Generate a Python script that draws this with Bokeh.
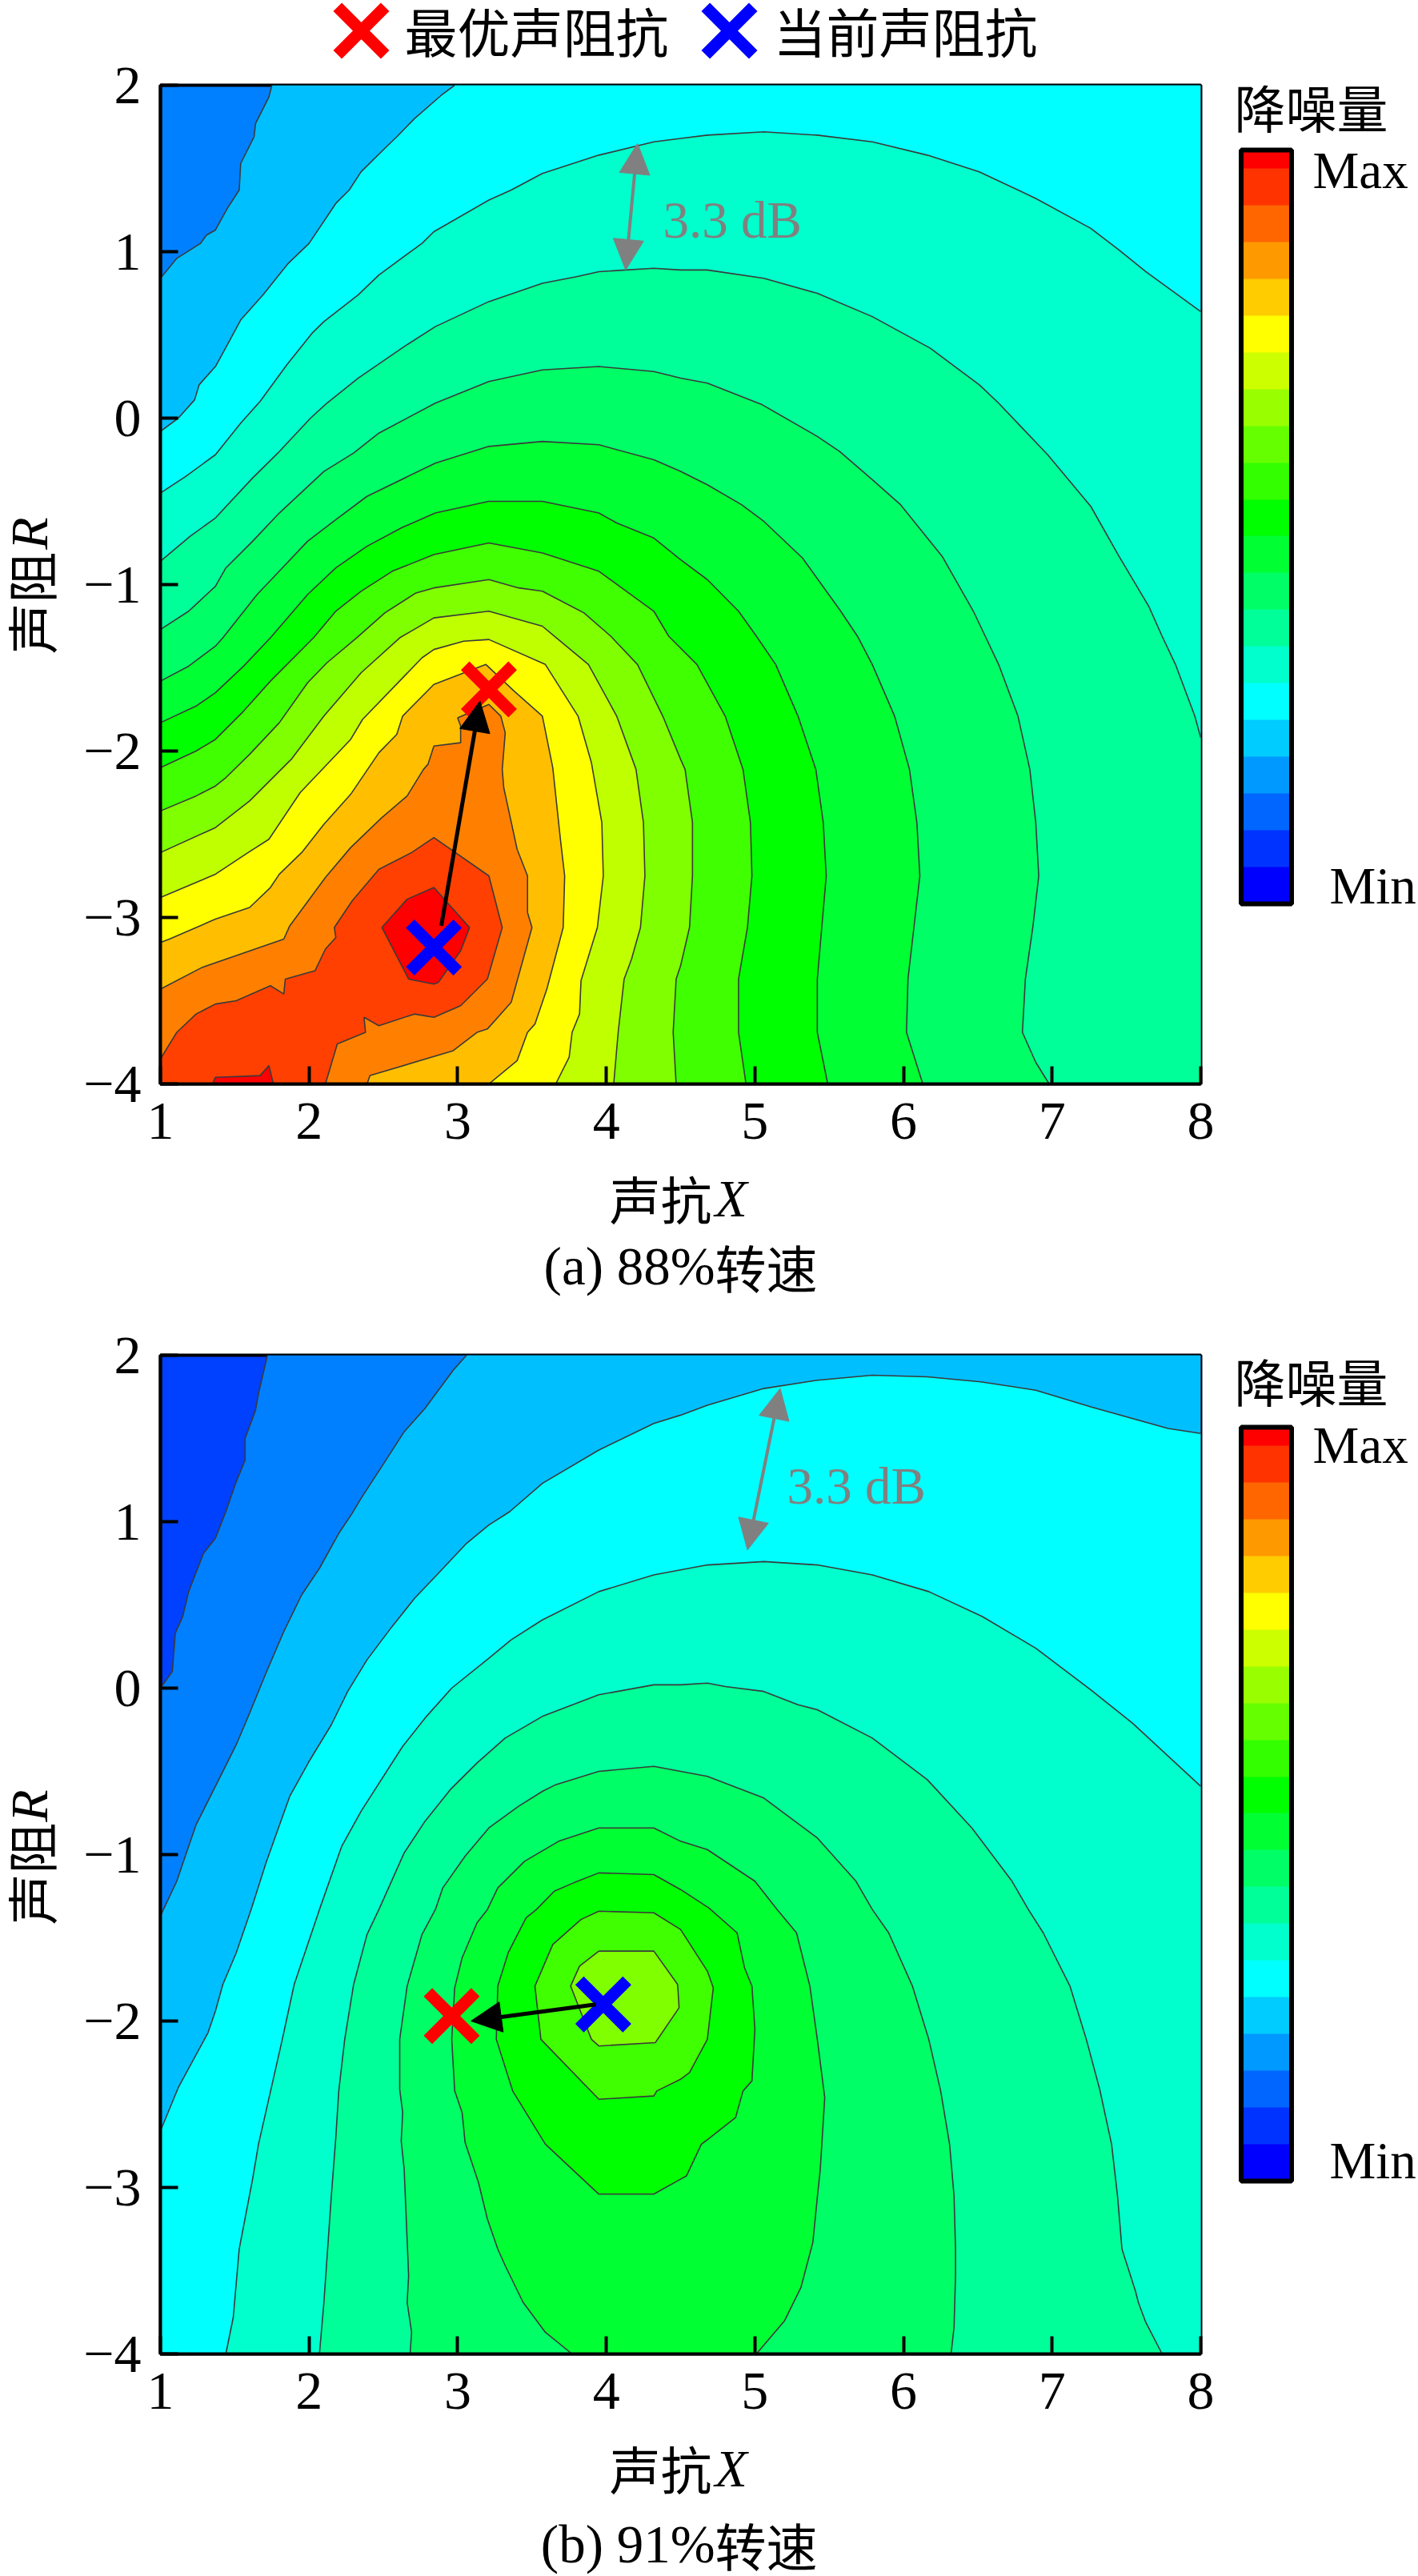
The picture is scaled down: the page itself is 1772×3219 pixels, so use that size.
from math import pi
from bokeh.plotting import figure
from bokeh.layouts import column, row
from bokeh.embed import file_html
from bokeh.resources import INLINE
from bokeh.core.properties import value
from bokeh.models import (Range1d, FixedTicker, Label, Arrow, NormalHead, ColorBar,
                          LinearColorMapper)

SERIF = "Liberation Serif"
CJK = "Noto Sans CJK SC"

# ---------- colour bar bands, low to high ----------
BAR_COLORS = ["#0000ff", "#0033ff", "#0066ff", "#0099ff", "#00ccff", "#00ffff", "#00ffcc", "#00ff99",
              "#00ff66", "#00ff33", "#00ff00", "#33ff00", "#66ff00", "#99ff00", "#ccff00", "#ffff00",
              "#ffcc00", "#ff9900", "#ff6600", "#ff3300", "#ff0000"]

# ---------- panel (a) 88% ----------
A_BASE = "#0080ff"
A_COLORS = ["#00bfff", "#00ffff", "#00ffcc", "#00ff99", "#00ff66", "#00ff33", "#00ff00", "#40ff00",
            "#80ff00", "#bfff00", "#ffff00", "#ffbf00", "#ff8000", "#ff4000", "#ff0000", "#ff0000"]
A1X = [1.75,1.73,1.64,1.63,1.54,1.53,1.45,1.37,1.31,1.27,1.11,1]
A1Y = [2,1.93,1.77,1.69,1.53,1.37,1.26,1.13,1.10,1.05,.96,.84]
A2X = [2.98,2.89,2.71,2.59,2.52,2.35,2.27,2.18,2.0,1.86,1.69,1.54,1.45,1.37,1.26,1.23,1.12,1]
A2Y = [2,1.94,1.8,1.69,1.63,1.48,1.37,1.29,1.05,.93,.74,.59,.44,.31,.2,.11,0,-.08]
A3X = [1,1.17,1.37,1.54,1.67,1.85,2.02,2.10,2.33,2.47,2.76,2.84,3.21,3.36,3.57,3.95,4.32,4.5,4.68,5.06,5.42,5.79,6.16,6.51,6.89,7.26,7.45,7.63,8]
A3Y = [-.45,-.35,-.22,-.03,.10,.32,.51,.58,.74,.86,1.05,1.12,1.31,1.37,1.47,1.58,1.66,1.68,1.70,1.72,1.70,1.66,1.58,1.48,1.32,1.14,1.01,.88,.64]
A4X = [1,1.20,1.37,1.62,1.79,2.01,2.12,2.33,2.64,2.85,3.21,3.57,3.80,3.95,4.32,4.5,4.68,5.06,5.42,5.79,6.18,6.51,6.64,6.97,7.26,7.45,7.65,7.74,7.83,7.96,8]
A4Y = [-.86,-.71,-.60,-.36,-.21,0,.09,.24,.43,.55,.70,.81,.85,.88,.90,.89,.89,.84,.75,.61,.42,.20,.09,-.22,-.53,-.83,-1.13,-1.31,-1.48,-1.79,-1.92]
A5X = [1,1.19,1.37,1.44,1.62,1.80,2.10,2.30,2.47,2.85,3.21,3.57,3.95,4.32,4.5,4.68,5.05,5.42,5.57,5.79,5.98,6.26,6.47,6.55,6.64,6.77,6.85,6.89,6.91,6.87,6.82,6.80,6.89,6.98]
A5Y = [-1.27,-1.16,-1.01,-.90,-.74,-.57,-.32,-.21,-.09,.09,.22,.29,.31,.28,.24,.21,.08,-.11,-.2,-.37,-.52,-.83,-1.16,-1.31,-1.48,-1.79,-2.11,-2.43,-2.75,-3.06,-3.37,-3.69,-3.87,-4]
A6X = [1,1.19,1.37,1.42,1.65,1.82,1.99,2.18,2.39,2.85,3.21,3.57,3.95,4.32,4.5,4.68,4.91,5.06,5.32,5.57,5.69,5.79,5.94,6.04,6.09,6.11,6.07,6.03,6.02,6.13]
A6Y = [-1.58,-1.49,-1.37,-1.32,-1.06,-.90,-.74,-.61,-.47,-.27,-.17,-.14,-.16,-.25,-.32,-.40,-.52,-.62,-.84,-1.15,-1.31,-1.48,-1.79,-2.11,-2.43,-2.75,-3.06,-3.37,-3.69,-4]
A7X = [1,1.24,1.37,1.56,1.74,1.99,2.18,2.39,2.62,2.85,3.21,3.57,3.95,4.07,4.32,4.5,4.68,4.89,5.01,5.14,5.29,5.41,5.46,5.48,5.45,5.42,5.42,5.49]
A7Y = [-1.83,-1.73,-1.65,-1.49,-1.32,-1.06,-.90,-.77,-.66,-.57,-.50,-.50,-.57,-.63,-.72,-.85,-.97,-1.16,-1.31,-1.48,-1.79,-2.11,-2.43,-2.75,-3.06,-3.37,-3.69,-4]
A8X = [1,1.24,1.37,1.56,1.74,2.03,2.18,2.35,2.56,2.84,3.21,3.57,3.95,4.32,4.42,4.61,4.80,4.92,4.97,4.98,4.95,4.89,4.89,4.94]
A8Y = [-2.10,-2.0,-1.93,-1.76,-1.58,-1.32,-1.16,-1.04,-.92,-.82,-.75,-.81,-.92,-1.16,-1.31,-1.48,-1.79,-2.11,-2.43,-2.75,-3.06,-3.37,-3.69,-4]
A9X = [1,1.24,1.37,1.44,1.60,1.80,1.99,2.12,2.32,2.51,2.72,2.84,3.21,3.41,3.57,3.85,4.03,4.21,4.38,4.50,4.53,4.58,4.58,4.56,4.50,4.47,4.45,4.47]
A9Y = [-2.36,-2.27,-2.21,-2.16,-2.02,-1.83,-1.59,-1.47,-1.32,-1.17,-1.05,-1.02,-.97,-1.02,-1.04,-1.17,-1.31,-1.48,-1.79,-2.05,-2.11,-2.43,-2.75,-3.06,-3.29,-3.37,-3.69,-4]
A10X = [1,1.37,1.60,1.88,2.10,2.35,2.61,2.84,3.21,3.57,3.65,3.88,4.07,4.20,4.25,4.26,4.23,4.17,4.12,4.08,4.05]
A10Y = [-2.61,-2.46,-2.30,-2.05,-1.79,-1.53,-1.32,-1.20,-1.16,-1.25,-1.31,-1.48,-1.79,-2.11,-2.43,-2.75,-3.06,-3.25,-3.37,-3.69,-4]
A11X = [1,1.37,1.59,1.73,1.94,2.28,2.36,2.76,2.84,3.04,3.21,3.59,3.81,3.90,3.97,3.98,3.94,3.83,3.82,3.77,3.75,3.66]
A11Y = [-2.88,-2.74,-2.61,-2.53,-2.25,-1.93,-1.81,-1.44,-1.39,-1.34,-1.33,-1.48,-1.79,-2.07,-2.43,-2.75,-3.06,-3.38,-3.58,-3.69,-3.84,-4]
A12X = [1,1.06,1.37,1.60,1.74,1.80,1.95,2.10,2.28,2.47,2.59,2.63,2.84,3.19,3.38,3.57,3.64,3.69,3.72,3.71,3.60,3.52,3.47,3.40,3.21]
A12Y = [-3.15,-3.13,-3.01,-2.94,-2.82,-2.74,-2.61,-2.44,-2.26,-2.01,-1.90,-1.79,-1.60,-1.48,-1.64,-1.79,-2.10,-2.52,-2.75,-3.06,-3.43,-3.64,-3.69,-3.86,-4]
A13X = [1,1.28,1.83,1.87,2.11,2.28,2.49,2.66,2.77,2.80,2.84,3.02,3.02,3.0,3.21,3.29,3.32,3.30,3.31,3.40,3.47,3.47,3.50,3.36,3.20,3.13,2.97,2.41,2.39]
A13Y = [-3.43,-3.30,-3.13,-3.05,-2.76,-2.58,-2.40,-2.27,-2.11,-2.08,-1.97,-1.95,-1.85,-1.80,-1.72,-1.79,-1.89,-2.11,-2.22,-2.59,-2.75,-2.97,-3.06,-3.51,-3.67,-3.69,-3.80,-3.95,-4]
A14X = [1,1.11,1.24,1.37,1.51,1.74,1.83,1.84,2.04,2.11,2.18,2.17,2.29,2.47,2.69,2.84,3.21,3.30,3.20,3.02,2.84,2.71,2.47,2.37,2.38,2.19,2.11]
A14Y = [-3.85,-3.69,-3.58,-3.52,-3.50,-3.41,-3.46,-3.37,-3.32,-3.19,-3.12,-3.06,-2.90,-2.71,-2.61,-2.52,-2.75,-3.06,-3.37,-3.53,-3.60,-3.58,-3.65,-3.60,-3.69,-3.76,-4]
A15X = [2.49,2.66,2.84,3.08,3.02,2.87,2.84,2.67]
A15Y = [-3.06,-2.89,-2.82,-3.06,-3.20,-3.39,-3.40,-3.37]
A16X = [1.35,1.37,1.67,1.73,1.76]
A16Y = [-4,-3.96,-3.95,-3.89,-4]
A_BEST = (3.21, -1.63)
A_NOW = (2.84, -3.18)
A_MOVE = (2.89, -3.05, 3.15, -1.70)
A_GAP = (4.21, 1.65, 4.13, 0.89)

# ---------- panel (b) 91% ----------
B_BASE = "#0040ff"
B_COLORS = ["#0080ff", "#00bfff", "#00ffff", "#00ffcc", "#00ff99", "#00ff66", "#00ff33", "#00ff00",
            "#40ff00", "#80ff00"]
B1X = [1.72,1.66,1.64,1.57,1.57,1.51,1.44,1.37,1.29,1.19,1.15,1.10,1.08,1]
B1Y = [2,1.77,1.67,1.50,1.37,1.24,1.06,.90,.81,.58,.43,.33,.10,0]
B2X = [3.06,2.97,2.78,2.64,2.51,2.35,2.29,2.20,2.07,1.95,1.83,1.71,1.60,1.51,1.37,1.24,1.14,1.11,1.02,1]
B2Y = [2,1.91,1.68,1.54,1.36,1.14,1.05,.93,.72,.56,.34,.09,-.15,-.34,-.59,-.82,-1.08,-1.16,-1.33,-1.37]
B3X = [1,1.12,1.32,1.37,1.42,1.51,1.61,1.71,1.87,2.0,2.15,2.26,2.39,2.55,2.71,2.86,3.06,3.21,3.35,3.57,3.95,4.32,4.5,4.68,5.06,5.42,5.79,6.16,6.52,6.89,7.26,7.78,8]
B3Y = [-2.66,-2.40,-2.07,-1.94,-1.78,-1.59,-1.33,-1.05,-.65,-.44,-.22,-.02,.17,.36,.54,.68,.87,.98,1.06,1.23,1.43,1.59,1.64,1.70,1.80,1.85,1.88,1.87,1.84,1.79,1.69,1.56,1.53]
B4X = [1.44,1.49,1.53,1.62,1.66,1.82,1.90,2.07,2.22,2.35,2.63,2.79,2.96,3.21,3.36,3.57,3.95,4.32,4.5,4.68,5.06,5.42,5.79,6.17,6.53,6.89,7.26,7.54,8]
B4Y = [-4,-3.78,-3.37,-2.95,-2.74,-2.11,-1.78,-1.33,-.95,-.74,-.35,-.17,0,.18,.29,.41,.58,.68,.71,.74,.76,.74,.68,.58,.43,.24,-.01,-.21,-.59]
B5X = [2.07,2.10,2.15,2.18,2.20,2.24,2.30,2.39,2.47,2.64,2.78,2.95,3.13,3.32,3.57,3.95,4.32,4.5,4.68,4.80,5.06,5.29,5.42,5.79,6.16,6.46,6.73,6.84,6.94,7.12,7.23,7.32,7.40,7.44,7.47,7.56,7.58,7.63,7.74]
B5Y = [-4,-3.69,-3.05,-2.70,-2.42,-2.11,-1.78,-1.48,-1.33,-.99,-.80,-.61,-.45,-.30,-.17,-.04,.02,.02,.03,.01,-.02,-.10,-.13,-.30,-.55,-.84,-1.16,-1.33,-1.47,-1.79,-2.11,-2.41,-2.74,-3.05,-3.37,-3.62,-3.69,-3.81,-4]
B6X = [2.68,2.69,2.66,2.67,2.64,2.62,2.63,2.61,2.61,2.66,2.76,2.85,2.90,3.05,3.21,3.41,3.57,3.66,3.95,4.32,4.5,4.68,5.06,5.42,5.68,5.79,5.90,6.06,6.17,6.25,6.31,6.34,6.35,6.35,6.34,6.32]
B6Y = [-4,-3.87,-3.69,-3.53,-2.89,-2.72,-2.55,-2.41,-2.11,-1.79,-1.48,-1.33,-1.2,-1.01,-.84,-.71,-.62,-.58,-.50,-.47,-.50,-.53,-.66,-.90,-1.16,-1.33,-1.47,-1.79,-2.11,-2.42,-2.74,-3.05,-3.37,-3.53,-3.84,-4]
B7X = [3.77,3.59,3.44,3.32,3.27,3.20,3.14,3.05,3.03,2.98,2.96,2.98,3.03,3.13,3.20,3.27,3.45,3.68,3.95,4.32,4.5,4.68,5.0,5.15,5.28,5.37,5.42,5.47,5.44,5.42,5.39,5.31,5.20,5.01]
B7Y = [-4,-3.87,-3.69,-3.47,-3.37,-3.19,-2.97,-2.73,-2.55,-2.42,-2.11,-1.80,-1.62,-1.41,-1.33,-1.2,-1.04,-.92,-.84,-.84,-.92,-.97,-1.16,-1.33,-1.47,-1.79,-2.11,-2.46,-2.89,-3.06,-3.33,-3.60,-3.80,-4]
B8X = [3.53,3.65,3.78,3.95,4.32,4.5,4.69,4.88,4.93,4.98,5.0,4.98,4.92,4.87,4.67,4.64,4.54,4.50,4.32,3.95,3.59,3.37,3.26,3.27,3.34,3.46]
B8Y = [-1.33,-1.22,-1.17,-1.11,-1.12,-1.21,-1.32,-1.47,-1.68,-1.79,-2.05,-2.36,-2.42,-2.58,-2.72,-2.74,-2.93,-2.95,-3.04,-3.04,-2.74,-2.42,-2.11,-1.79,-1.59,-1.38]
B9X = [3.95,4.32,4.5,4.68,4.72,4.68,4.56,4.5,4.34,4.32,3.95,3.56,3.52,3.64,3.83]
B9Y = [-1.34,-1.35,-1.45,-1.70,-1.80,-2.11,-2.31,-2.35,-2.42,-2.45,-2.47,-2.11,-1.79,-1.54,-1.39]
B10X = [3.95,4.32,4.48,4.49,4.33,3.95,3.90,3.76,3.82]
B10Y = [-1.58,-1.58,-1.78,-1.92,-2.13,-2.15,-2.11,-1.79,-1.67]
B_BEST = (2.96, -1.97)
B_NOW = (3.98, -1.90)
B_MOVE = (3.93, -1.90, 3.09, -2.00)
B_GAP = (5.17, 1.80, 4.95, 0.83)

X_TICKS = [1, 2, 3, 4, 5, 6, 7, 8]
Y_TICKS = [-4, -3, -2, -1, 0, 1, 2]
Y_TICK_TEXT = {-4: "\u22124", -3: "\u22123", -2: "\u22122", -1: "\u22121", 0: "0", 1: "1", 2: "2"}

CORNERS_A = [[(1,-4),(8,-4),(8,2)], [(1,-4),(8,-4),(8,2)], [(8,-4),(1,-4)], [(8,-4),(1,-4)]] + [[(1,-4)]]*10 + [[], []]
CORNERS_B = [[(1,-4),(8,-4),(8,2)], [(1,-4),(8,-4),(8,2)], [(8,-4),(1,-4)], [(8,-4)]] + [[]]*6

A_LEVELS = [(A1X,A1Y),(A2X,A2Y),(A3X,A3Y),(A4X,A4Y),(A5X,A5Y),(A6X,A6Y),(A7X,A7Y),(A8X,A8Y),
            (A9X,A9Y),(A10X,A10Y),(A11X,A11Y),(A12X,A12Y),(A13X,A13Y),(A14X,A14Y),(A15X,A15Y),(A16X,A16Y)]
B_LEVELS = [(B1X,B1Y),(B2X,B2Y),(B3X,B3Y),(B4X,B4Y),(B5X,B5Y),(B6X,B6Y),(B7X,B7Y),(B8X,B8Y),(B9X,B9Y),(B10X,B10Y)]

FRAME_LEFT, FRAME_W, FRAME_H = 200, 1300, 1248
LEFT_W, RIGHT_START, RIGHT_W, BELOW_PAD = 72, 1540, 232, 91


def sheet(width, height, xr, yr, **kw):
    """A bare figure whose ranges run in the page's pixels, for the texts around a panel."""
    s = figure(frame_width=width, frame_height=height, x_range=Range1d(*xr), y_range=Range1d(*yr),
               x_axis_location=None, y_axis_location=None, output_backend="svg", toolbar_location=None,
               outline_line_color=None, min_border_top=kw.get("top", 0), min_border_bottom=kw.get("bottom", 0),
               min_border_left=kw.get("left", 0), min_border_right=kw.get("right", 0))
    s.grid.visible = False
    return s


def put(s, x, y, text, font=SERIF, size=66, color="black", align="center", style="normal", angle=0):
    s.text([x], [y], text=[text], text_font=value(font), text_font_size=f"{size}px", text_color=color,
           text_align=align, text_baseline="middle", text_font_style=style, angle=angle)


def panel(fig_top, frame_top, page_end, base, colors, levels, corners, best, now, move, gap,
          gap_label, bar_up, title_y, max_y, min_y, xlabel_y, cap_y, cap_text, ylab_y, r_y):
    top = frame_top - fig_top
    frame_bottom = frame_top + FRAME_H
    p = figure(frame_width=FRAME_W, frame_height=FRAME_H, x_range=Range1d(1, 8), y_range=Range1d(-4, 2),
               output_backend="svg", toolbar_location=None, min_border_left=FRAME_LEFT - LEFT_W,
               min_border_right=RIGHT_START - FRAME_LEFT - FRAME_W,
               min_border_top=top, min_border_bottom=BELOW_PAD,
               background_fill_color=base, border_fill_color="white")
    p.grid.visible = False
    p.outline_line_color = "black"
    p.outline_line_width = 4
    for ax, ticks in ((p.xaxis[0], X_TICKS), (p.yaxis[0], Y_TICKS)):
        ax.ticker = FixedTicker(ticks=ticks)
        ax.major_tick_in = 22
        ax.major_tick_out = 0
        ax.minor_tick_line_color = None
        ax.major_tick_line_width = 4
        ax.axis_line_width = 4
        ax.major_label_text_font = SERIF
        ax.major_label_text_font_size = "68px"
        ax.major_label_text_color = "black"
    p.xaxis[0].major_label_standoff = 24
    p.yaxis[0].major_label_standoff = 24
    p.yaxis[0].major_label_overrides = Y_TICK_TEXT

    for (xs, ys), col, extra in zip(levels, colors, corners):
        p.patch(list(xs) + [c[0] for c in extra], list(ys) + [c[1] for c in extra],
                fill_color=col, line_color=None)
        closed = not extra and xs[0] != 8 and ys[0] != -4
        p.line(list(xs) + ([xs[0]] if closed else []), list(ys) + ([ys[0]] if closed else []),
               line_color="#3a3a3a", line_width=1.6)

    p.add_layout(Label(x=1 + (gap_label[0] - FRAME_LEFT) * 7 / FRAME_W, y=2 - (gap_label[1] - frame_top) * 6 / FRAME_H,
                       text="3.3 dB", text_font=SERIF, text_font_size="65px", text_color="#808080",
                       text_baseline="middle"))
    gray = "#808080"
    p.add_layout(Arrow(x_start=gap[0], y_start=gap[1], x_end=gap[2], y_end=gap[3],
                       start=NormalHead(size=38, fill_color=gray, line_color=gray, line_width=1),
                       end=NormalHead(size=38, fill_color=gray, line_color=gray, line_width=1),
                       line_color=gray, line_width=4))
    p.add_layout(Arrow(x_start=move[0], y_start=move[1], x_end=move[2], y_end=move[3],
                       end=NormalHead(size=38, fill_color="black", line_color="black", line_width=1),
                       line_color="black", line_width=5))
    p.scatter([best[0]], [best[1]], marker="x", size=84, line_color="#ff0000", line_width=15)
    p.scatter([now[0]], [now[1]], marker="x", size=84, line_color="#0000ff", line_width=15)

    # y title to the left
    left = sheet(LEFT_W, FRAME_H, (0, LEFT_W), (frame_bottom, frame_top), top=top, bottom=BELOW_PAD)
    put(left, 36, ylab_y, "\u58f0\u963b", CJK, 64, angle=pi / 2)
    put(left, 36, r_y, "R", style="italic", size=66, angle=pi / 2)

    # colour bar to the right
    right = sheet(RIGHT_W, FRAME_H, (RIGHT_START, RIGHT_START + RIGHT_W), (frame_bottom, frame_top),
                  top=top, bottom=BELOW_PAD)
    put(right, 1638, title_y, "\u964d\u566a\u91cf", CJK, 64)
    put(right, 1640, max_y, "Max", align="left", size=65)
    put(right, 1661, min_y, "Min", align="left", size=65)
    right.add_layout(ColorBar(color_mapper=LinearColorMapper(
        palette=[c for c in BAR_COLORS[:-1] for _ in (0, 1)] + [BAR_COLORS[-1]], low=0, high=1),
        location=(1550.5 - RIGHT_START, bar_up), width=63, height=942, padding=0,
        ticker=FixedTicker(ticks=[]), major_tick_line_color=None, major_label_text_font_size="1px",
        bar_line_color="black", bar_line_width=6, border_line_color=None, background_fill_color=None),
        "center")

    # x title and caption below
    below_top = frame_bottom + BELOW_PAD
    below = sheet(FRAME_W, page_end - below_top, (FRAME_LEFT, FRAME_LEFT + FRAME_W), (page_end, below_top),
                  left=FRAME_LEFT, right=RIGHT_W + RIGHT_START - FRAME_LEFT - FRAME_W)
    put(below, 825, xlabel_y, "\u58f0\u6297", CJK, 64)
    put(below, 893, xlabel_y + 2, "X", align="left", style="italic", size=66)
    put(below, 893, cap_y, cap_text, align="right", size=67)
    put(below, 893, cap_y, "\u8f6c\u901f", CJK, 64, align="left")
    return column(row(left, p, right, spacing=0), below, spacing=0)


# ---------- legend strip ----------
LEGEND_NAMES = ["\u6700\u4f18\u58f0\u963b\u6297", "\u5f53\u524d\u58f0\u963b\u6297"]
LEGEND_COLORS = ["#ff0000", "#0000ff"]
LEGEND_MARK_X = [451, 911]
LEGEND_TEXT_X = [505, 966]
strip = sheet(FRAME_W, 78, (FRAME_LEFT, FRAME_LEFT + FRAME_W), (78, 0), left=FRAME_LEFT,
              right=RIGHT_W + RIGHT_START - FRAME_LEFT - FRAME_W)
strip.scatter(LEGEND_MARK_X, [38, 38], marker="x", size=84, line_color=LEGEND_COLORS, line_width=15)
strip.text(LEGEND_TEXT_X, [36, 36], text=LEGEND_NAMES, text_font=value(CJK), text_font_size="66px",
           text_baseline="middle", text_align="left", text_color="black")

pa = panel(78, 106, 1635, A_BASE, A_COLORS, A_LEVELS, CORNERS_A, A_BEST, A_NOW, A_MOVE, A_GAP, (828, 274),
           1354 - 1129, 131, 212, 1106, 1495, 1581, "(a) 88%", 753, 666)
pb = panel(1635, 1693, 3219, B_BASE, B_COLORS, B_LEVELS, CORNERS_B, B_BEST, B_NOW, B_MOVE, B_GAP, (983, 1856),
           2941 - 2725, 1723, 1805, 2699, 3082, 3178, "(b) 91%", 2341, 2256)

page = column(strip, pa, pb, spacing=0, margin=(0, 0, 0, 0))
open("out.html", "w").write(file_html(page, INLINE))
